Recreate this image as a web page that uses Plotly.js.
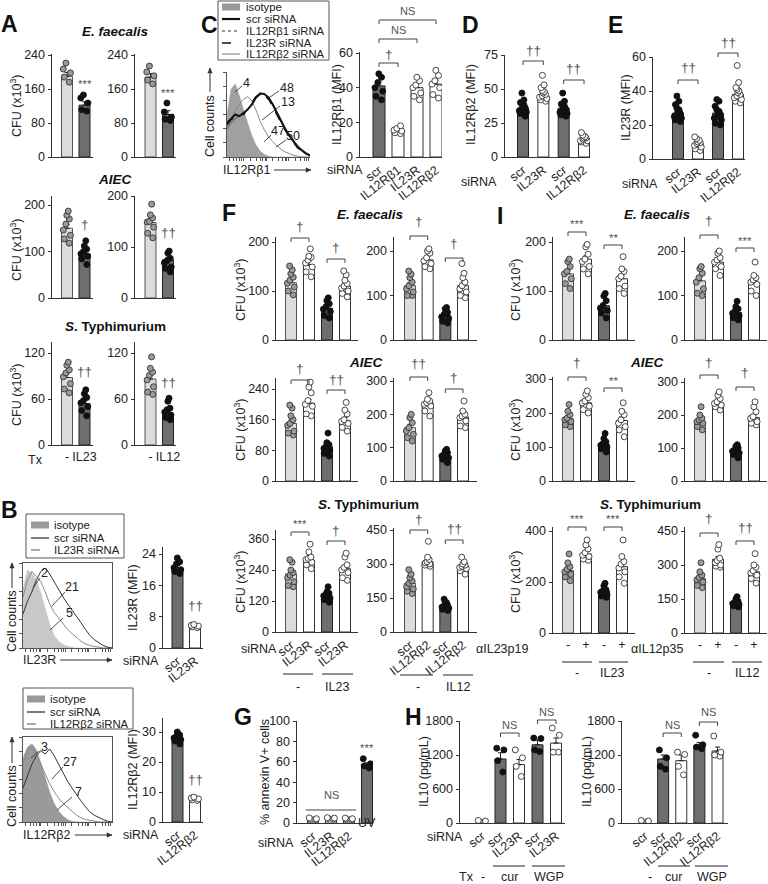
<!DOCTYPE html>
<html><head><meta charset="utf-8">
<script src="https://cdn.plot.ly/plotly-3.0.1.min.js"></script>
<style>body{margin:0;background:#fff}#c{width:768px;height:884px}</style>
</head><body><div id="c"></div>
<script>
// ================= DATA =================
// Panel A
const A_ticks_IL23 = ['-', 'IL23'];
const A_ticks_IL12 = ['-', 'IL12'];
const A_Ef_IL23_mean = [190, 122], A_Ef_IL23_sem = [9, 8];
const A_Ef_IL23_pts = [[221,207,198,188,176],[146,139,127,111,108]];
const A_Ef_IL12_mean = [188, 100], A_Ef_IL12_sem = [8, 9];
const A_Ef_IL12_pts = [[214,200,191,181,172],[127,106,94,89,86]];
const A_AIEC_IL23_mean = [150, 95], A_AIEC_IL23_sem = [8, 6];
const A_AIEC_IL23_pts = [[187,178,170,159,146,135,127,118],[123,112,105,100,95,90,84,72]];
const A_AIEC_IL12_mean = [148, 75], A_AIEC_IL12_sem = [8, 5];
const A_AIEC_IL12_pts = [[184,163,157,150,149,139,127,118],[92,88,78,73,69,61,51,58]];
const A_ST_IL23_mean = [88, 54], A_ST_IL23_sem = [5, 4];
const A_ST_IL23_pts = [[108,104,98,94,89,80,73,68],[72,67,62,58,55,50,45,38]];
const A_ST_IL12_mean = [86, 41], A_ST_IL12_sem = [5, 3];
const A_ST_IL12_pts = [[115,100,95,91,85,76,69,66],[61,57,48,46,43,39,36,33]];

// Panel B
const B_IL23R_cats = ['scr', 'IL23R'];
const B_IL23R_mean = [20.5, 5.5], B_IL23R_sem = [0.6, 0.2];
const B_IL23R_pts = [[23,22,21.5,20.5,20,19.5,19],[6,5.8,5.6,5.4,5.2]];
const B_IL12Rb2_cats = ['scr', 'IL12Rβ2'];
const B_IL12Rb2_mean = [28, 7.5], B_IL12Rb2_sem = [0.7, 0.3];
const B_IL12Rb2_pts = [[30,29,28.5,28,27.5,27,26],[8.3,8,7.7,7.4,7.2]];
const B1_hist_labels = ['2', '21', '5'];
const B2_hist_labels = ['3', '27', '7'];

// Histogram curves (flow cytometry)
const HIST_X = [0,5,10,15,20,25,30,35,40,45,50,55,60,65,70,75,80,85,90,95,100];
const B1_iso = [70,92,88,80,65,45,28,15,8,4,2,1,0,0,0,0,0,0,0,0,0];
const B1_kd  = [60,80,90,84,78,66,52,42,35,28,22,17,12,8,5,3,2,1,0,0,0];
const B1_scr = [40,55,66,80,90,94,87,78,68,60,52,45,38,30,22,15,10,6,3,1,0];
const B2_iso = [75,88,92,85,70,52,35,22,13,7,3,1,0,0,0,0,0,0,0,0,0];
const B2_kd  = [70,85,88,80,68,56,45,36,28,22,17,12,8,5,3,2,1,0,0,0,0];
const B2_scr = [40,55,68,78,84,80,86,78,68,58,48,40,32,25,18,12,8,5,3,1,0];
const C_iso = [50,80,86,72,55,40,25,14,7,3,1,0,0,0,0,0,0,0,0,0,0];
const C_scr = [40,45,50,48,52,56,62,70,75,74,70,62,52,42,33,25,18,12,8,4,2];
const C_b1  = [35,45,55,62,68,71,66,55,42,32,24,18,13,9,6,4,2,1,0,0,0];
const C_23r = [38,44,47,50,50,57,64,71,74,73,68,60,50,40,32,24,17,11,7,4,2];
const C_b2  = [33,40,45,48,51,55,63,70,73,75,70,63,54,44,35,27,20,14,9,5,2];
const C_hist_labels = ['4', '48', '13', '47', '50'];

// Panel C
const C_cats = ['scr', 'IL12Rβ1', 'IL23R', 'IL12Rβ2'];
const C_mean = [41, 15, 40, 42], C_sem = [2.2, 0.8, 2.5, 2.3];
const C_pts = [[48,46,43,40,38,35,33],[18,16.5,15.5,15,14,13.5],[46,44,41.5,40,37,35,33],[50,47,44,42,40,36,34]];

// Panel D
const D_cats = ['scr', 'IL23R', 'scr', 'IL12Rβ2'];
const D_mean = [36, 45, 36, 13], D_sem = [1.5, 1.6, 1.5, 0.8];
const D_pts = [[47,42,40,39,38,37,36,35,34,33,32,30],[60,53,51,49,48,47,46,45,44,43,42,41],
               [47,41,39,38,37,36,35,34,33,32,31,30],[18,16,15,14,14,13,12,12,11,10]];
// Panel E
const E_cats = ['scr', 'IL23R', 'scr', 'IL12Rβ2'];
const E_mean = [27, 9, 27, 38], E_sem = [1.3, 0.8, 1.2, 1.5];
const E_pts = [[37,34,32,30,29,28,27,26,25,24,23,22],[13,12,11,10,9.5,9,8,7,6,5],
               [35,34,31,29,28,27,26,25,24,23,21,20],[55,45,42,41,40,39,38,37,36,35,34,33]];

// Panel F
const F_cats_IL23 = ['scr', 'IL23R', 'scr', 'IL23R'];
const F_cats_IL12 = ['scr', 'IL12Rβ2', 'scr', 'IL12Rβ2'];
const F_Ef_IL23_mean = [117,153,65,110], F_Ef_IL23_sem = [7,8,5,6];
const F_Ef_IL23_pts = [[151,143,135,128,122,116,108,100,92],[186,171,169,163,157,149,139,129],[86,80,74,68,63,58,50,45],[141,133,122,115,110,106,100,95,88]];
const F_Ef_IL12_mean = [122,180,55,122], F_Ef_IL12_sem = [7,6,4,8];
const F_Ef_IL12_pts = [[155,148,140,130,122,115,108,100,100],[205,200,195,185,178,172,165,160],[73,70,62,58,52,48,42,38],[172,150,140,130,122,115,108,100,95]];
const F_AIEC_IL23_mean = [150,203,90,157], F_AIEC_IL23_sem = [9,10,7,9];
const F_AIEC_IL23_pts = [[198,190,170,160,150,145,130,125,120],[258,245,230,210,200,195,175,170],[125,100,95,90,85,80,72,65],[205,185,175,160,155,150,140,130]];
const F_AIEC_IL12_mean = [160,235,75,192], F_AIEC_IL12_sem = [10,8,5,10];
const F_AIEC_IL12_pts = [[200,190,175,160,150,140,130,120],[265,245,240,235,230,225,210,195],[95,90,85,80,75,70,65,55],[240,210,200,195,190,180,165,160]];
const F_ST_IL23_mean = [225,278,140,245], F_ST_IL23_sem = [12,12,7,13];
const F_ST_IL23_pts = [[280,270,240,230,220,210,195,180,175],[340,310,290,285,280,270,260,245],[175,155,150,145,140,130,125,115],[305,290,260,250,240,230,210,200]];
const F_ST_IL12_mean = [215,310,115,290], F_ST_IL12_sem = [11,12,6,9];
const F_ST_IL12_pts = [[275,255,240,225,215,200,190,180,170],[400,330,320,310,305,300,295,290],[145,130,125,120,115,110,105,100,95],[330,310,300,295,290,285,280,270,255]];

// Panel I
const I_cats = ['-', '+', '-', '+'];
const I_Ef_IL23_mean = [135,165,70,125], I_Ef_IL23_sem = [8,7,6,8];
const I_Ef_IL23_pts = [[165,160,150,140,135,125,115,105],[195,190,175,165,160,150,145,135],[95,90,80,70,65,60,55,45],[170,145,140,130,125,110,105,95]];
const I_Ef_IL12_mean = [133,175,62,128], I_Ef_IL12_sem = [9,7,4,8];
const I_Ef_IL12_pts = [[165,160,150,140,130,115,105,100],[200,195,185,180,175,165,160,145],[87,75,70,65,60,55,50,45],[175,145,140,135,130,125,110,100]];
const I_AIEC_IL23_mean = [183,230,107,178], I_AIEC_IL23_sem = [8,8,6,11];
const I_AIEC_IL23_pts = [[225,205,195,185,180,175,165,160],[265,255,245,235,230,220,210,200],[140,125,115,110,105,100,95,85],[230,205,195,180,170,160,150,130]];
const I_AIEC_IL12_mean = [180,237,90,192], I_AIEC_IL12_sem = [8,7,5,9];
const I_AIEC_IL12_pts = [[225,200,190,185,180,175,165,155],[270,260,250,240,235,230,225,215],[110,105,100,95,90,85,80,70],[240,225,210,195,190,180,175,170]];
const I_ST_IL23_mean = [245,310,165,260], I_ST_IL23_sem = [12,11,7,18];
const I_ST_IL23_pts = [[310,275,260,250,240,230,220,205],[365,345,330,315,305,300,290,285],[195,185,170,165,160,150,145,140],[365,300,280,270,255,240,220,195]];
const I_ST_IL12_mean = [240,325,135,270], I_ST_IL12_sem = [10,12,5,13];
const I_ST_IL12_pts = [[310,270,255,245,235,225,210,200],[390,370,330,320,310,300,295,290],[160,150,140,135,130,125,120,115],[350,300,290,275,265,255,240,220]];

// Panel G
const G_cats = ['scr', 'IL23R', 'IL12Rβ2', 'UV'];
const G_mean = [4, 4.5, 4, 57], G_sem = [0.5, 0.5, 0.5, 2];
const G_pts = [[5,4.2,3.8,3.5],[5.2,4.8,4.4,4],[4.8,4.2,3.8,3.5],[63,58,56,54]];

// Panel H
const H_L_cats = ['scr', 'scr', 'IL23R', 'scr', 'IL23R'];
const H_L_mean = [30, 1130, 1030, 1380, 1410], H_L_sem = [8, 110, 90, 80, 90];
const H_L_pts = [[45,35,25,20],[1320,1290,1100,900],[1290,1150,1000,820],[1500,1490,1290,1260],[1675,1550,1250,1250]];
const H_R_cats = ['scr', 'scr', 'IL12Rβ2', 'scr', 'IL12Rβ2'];
const H_R_mean = [30, 1130, 1100, 1360, 1270], H_R_sem = [8, 70, 100, 60, 70];
const H_R_pts = [[45,35,25,20],[1290,1150,1000,950],[1250,1210,1000,850],[1550,1380,1340,1310],[1535,1250,1200,1180]];
const H_tx = ['-', 'cur', 'WGP'];

// ================= DRAWING =================
const W = 768, H = 884;
const P = v => 1 - v / H;
const FONT = 'Liberation Sans, Arial, sans-serif';
const TF = 12.5;   // general text size
const data = [], shapes = [], ann = [];
const layout = {
  width: W, height: H, margin: {l:0, r:0, t:0, b:0}, showlegend: false,
  paper_bgcolor: '#fff', plot_bgcolor: 'rgba(0,0,0,0)',
  font: {family: FONT, size: TF, color: '#222'}, shapes: shapes, annotations: ann
};
const STY = {
  L: {fill:'#dcdcdc', line:'#555', pt:'#9a9a9a', ptl:'#333'},
  D: {fill:'#6e6e6e', line:'#222', pt:'#111', ptl:'#111'},
  W: {fill:'#ffffff', line:'#333', pt:'#ffffff', ptl:'#333'}
};
let nAx = 0;
function axes() {
  nAx++; const s = nAx === 1 ? '' : nAx;
  return {xa: 'x' + s, ya: 'y' + s, xk: 'xaxis' + s, yk: 'yaxis' + s};
}
function barPanel(g, mean, sem, pts) {
  const n = mean.length, s = (g.cN - g.c0) / (n - 1);
  const a = axes();
  const ymax = g.tTop * (g.yb - g.yt) / (g.yb - g.tPx);
  const idx = mean.map((_, i) => i);
  const tt = g.tt || [];
  layout[a.xk] = {domain: [g.x0 / W, g.x1 / W], range: [(g.x0 - g.c0) / s, (g.x1 - g.c0) / s],
    type: 'linear', anchor: a.ya, showline: true, linecolor: '#333', linewidth: 1, ticks: '',
    showgrid: false, zeroline: false, tickvals: idx.slice(0, tt.length), ticktext: tt,
    tickangle: g.ta || 0, tickfont: {size: TF, color: '#222'}};
  layout[a.yk] = {domain: [P(g.yb), P(g.yt)], range: [0, ymax], anchor: a.xa, showline: true,
    linecolor: '#333', linewidth: 1, ticks: 'outside', ticklen: 3.5, tickcolor: '#333',
    tickvals: g.tv, showgrid: false, zeroline: false, tickfont: {size: TF, color: '#222'}};
  data.push({type: 'bar', xaxis: a.xa, yaxis: a.ya, x: idx, y: mean, width: g.bw / s,
    marker: {color: g.sty.map(k => STY[k].fill), line: {color: g.sty.map(k => STY[k].line), width: 1}},
    error_y: {type: 'data', array: sem, arrayminus: sem.map(() => 0), symmetric: false,
      color: '#222', thickness: 1, width: 2.5}, hoverinfo: 'skip'});
  pts.forEach((p, i) => {
    const st = STY[g.sty[i]];
    data.push({type: 'box', xaxis: a.xa, yaxis: a.ya, x0: i, y: p, boxpoints: 'all', jitter: 0.8,
      pointpos: 0, width: g.bw / s, fillcolor: 'rgba(0,0,0,0)',
      line: {color: 'rgba(0,0,0,0)', width: 0}, whiskerwidth: 0,
      marker: {color: st.pt, size: 6, line: {color: st.ptl, width: 0.9}}, hoverinfo: 'skip'});
  });
  return a;
}
function txt(x, y, t, o = {}) {
  const font = Object.assign({size: TF, color: '#222', family: FONT}, o.font || {});
  const base = {xref: 'paper', yref: 'paper', x: x / W, y: P(y), text: t, showarrow: false,
    xanchor: 'center', yanchor: 'middle'};
  ann.push(Object.assign(base, o, {font}));
}
function ytitle(x, y, t) { txt(x, y, t, {textangle: -90}); }
function letter(x, y, t) { txt(x, y, '<b>' + t + '</b>', {font: {size: 23, color: '#111'}}); }
function title(x, y, t) { txt(x, y, t, {font: {size: 13.5, color: '#111'}}); }
function ln(x0, y0, x1, y1, o = {}) {
  shapes.push({type: 'line', xref: 'paper', yref: 'paper', x0: x0 / W, y0: P(y0), x1: x1 / W, y1: P(y1),
    line: Object.assign({color: '#222', width: 1}, o)});
}
function rect(x0, y0, x1, y1, o) {
  shapes.push(Object.assign({type: 'rect', xref: 'paper', yref: 'paper', x0: x0 / W, y0: P(y1), x1: x1 / W, y1: P(y0)}, o));
}
function arrow(x0, y0, x1, y1) {
  ln(x0, y0, x1, y1, {color: '#333', width: 1});
  const dx = x1 - x0, dy = y1 - y0, L = Math.hypot(dx, dy), ux = dx / L, uy = dy / L, hl = 5, hw = 2.2;
  const bx = x1 - ux * hl, by = y1 - uy * hl;
  const p1 = [bx - uy * hw, by + ux * hw], p2 = [bx + uy * hw, by - ux * hw];
  shapes.push({type: 'path', xref: 'paper', yref: 'paper',
    path: `M${x1 / W},${P(y1)} L${p1[0] / W},${P(p1[1])} L${p2[0] / W},${P(p2[1])} Z`,
    fillcolor: '#333', line: {color: '#333', width: 0.5}});
}
function sigFont(t) { return {size: t === 'NS' ? 11 : (t.includes('*') ? 11.5 : 13.5), color: '#555', family: FONT}; }
function mark(a, i, py, t) {
  ann.push({xref: a.xa, yref: 'paper', x: i, y: P(py), text: t, showarrow: false, xanchor: 'center',
    yanchor: 'middle', font: sigFont(t)});
}
function bracket(a, i, j, py, t, lpy, drop = 4) {
  shapes.push({type: 'path', xref: a.xa, yref: 'paper',
    path: `M${i},${P(py + drop)} L${i},${P(py)} L${j},${P(py)} L${j},${P(py + drop)}`,
    line: {color: '#444', width: 1}});
  ann.push({xref: a.xa, yref: 'paper', x: (i + j) / 2, y: P(lpy), text: t, showarrow: false,
    xanchor: 'center', yanchor: 'middle', font: sigFont(t)});
}
function histPanel(g, curves) {
  const a = axes();
  layout[a.xk] = {domain: [g.x0 / W, g.x1 / W], range: [0, 100], anchor: a.ya, showline: true,
    linecolor: '#555', mirror: g.box, ticks: 'outside', ticklen: 3, tickcolor: '#555',
    tickvals: [3, 8, 12, 15, 18, 20, 28, 35, 40, 43, 46, 48, 55, 62, 67, 70, 72, 74, 82, 89, 93, 96, 98],
    showticklabels: false, showgrid: false, zeroline: false};
  layout[a.yk] = {domain: [P(g.yb), P(g.yt)], range: [0, 100], anchor: a.xa, showline: true,
    linecolor: '#555', mirror: g.box, ticks: 'outside', ticklen: 3, tickcolor: '#555',
    tickvals: [0, 17, 33, 50, 67, 83, 100], showticklabels: false, showgrid: false, zeroline: false};
  curves.forEach(c => data.push({type: 'scatter', mode: 'lines', xaxis: a.xa, yaxis: a.ya, x: HIST_X, y: c.y,
    line: {color: c.color, width: c.width, dash: c.dash || 'solid'},
    fill: c.fill ? 'tozeroy' : 'none', fillcolor: c.fill, hoverinfo: 'skip'}));
  return a;
}
function legendBox(x0, y0, x1, y1, items, sx, tx) {
  rect(x0, y0, x1, y1, {line: {color: '#555', width: 1}, fillcolor: 'rgba(0,0,0,0)'});
  items.forEach(it => {
    if (it.fill) rect(sx, it.y - 3.5, sx + 18, it.y + 3.5, {line: {width: 0}, fillcolor: it.fill});
    else ln(sx, it.y, sx + 18, it.y, {color: it.color, width: it.width, dash: it.dash || 'solid'});
    txt(tx, it.y, it.t, {xanchor: 'left', font: {size: 11.3}});
  });
}

// ---------- Letters ----------
letter(9, 24, 'A'); letter(9, 510, 'B'); letter(209, 25, 'C'); letter(470, 25, 'D');
letter(615, 25, 'E'); letter(229, 213, 'F'); letter(243, 717, 'G'); letter(413, 717, 'H');
letter(500, 216, 'I');

// ---------- Panel A ----------
const gAL = {x0: 52, x1: 93, c0: 67, cN: 84.5, bw: 11, sty: ['L', 'D']};
const gAR = {x0: 135, x1: 176, c0: 150.5, cN: 168, bw: 11, sty: ['L', 'D']};
const aA1 = barPanel(Object.assign({yt: 54, yb: 157, tv: [0, 80, 160, 240], tTop: 240, tPx: 55}, gAL), A_Ef_IL23_mean, A_Ef_IL23_sem, A_Ef_IL23_pts);
const aA2 = barPanel(Object.assign({yt: 54, yb: 157, tv: [0, 80, 160, 240], tTop: 240, tPx: 55}, gAR), A_Ef_IL12_mean, A_Ef_IL12_sem, A_Ef_IL12_pts);
const aA3 = barPanel(Object.assign({yt: 196, yb: 298, tv: [0, 100, 200], tTop: 200, tPx: 205}, gAL), A_AIEC_IL23_mean, A_AIEC_IL23_sem, A_AIEC_IL23_pts);
const aA4 = barPanel(Object.assign({yt: 196, yb: 298, tv: [0, 100, 200], tTop: 200, tPx: 196}, gAR), A_AIEC_IL12_mean, A_AIEC_IL12_sem, A_AIEC_IL12_pts);
const aA5 = barPanel(Object.assign({yt: 342, yb: 445, tv: [0, 60, 120], tTop: 120, tPx: 353, tt: A_ticks_IL23}, gAL), A_ST_IL23_mean, A_ST_IL23_sem, A_ST_IL23_pts);
const aA6 = barPanel(Object.assign({yt: 342, yb: 445, tv: [0, 60, 120], tTop: 120, tPx: 353, tt: A_ticks_IL12}, gAR), A_ST_IL12_mean, A_ST_IL12_sem, A_ST_IL12_pts);
mark(aA1, 1, 84, '***'); mark(aA2, 1, 93, '***');
mark(aA3, 1, 224, '†'); mark(aA4, 1, 233, '††');
mark(aA5, 1, 371, '††'); mark(aA6, 1, 382, '††');
title(115, 32, '<b><i>E. faecalis</i></b>'); title(115, 180, '<b><i>AIEC</i></b>'); title(115, 326, '<b><i>S</i>. Typhimurium</b>');
ytitle(16, 106, 'CFU (x10<sup>3</sup>)'); ytitle(16, 250, 'CFU (x10<sup>3</sup>)'); ytitle(16, 395, 'CFU (x10<sup>3</sup>)');
txt(35, 460, 'Tx');

// ---------- Panel B ----------
const bB1 = barPanel({x0: 163, x1: 203, c0: 177.5, cN: 195, bw: 11, yt: 547, yb: 648, tv: [0, 8, 16, 24], tTop: 24, tPx: 554, sty: ['D', 'W'], tt: B_IL23R_cats, ta: -38}, B_IL23R_mean, B_IL23R_sem, B_IL23R_pts);
const bB2 = barPanel({x0: 163, x1: 203, c0: 177.5, cN: 195, bw: 11, yt: 718, yb: 822, tv: [0, 10, 20, 30], tTop: 30, tPx: 732, sty: ['D', 'W'], tt: B_IL12Rb2_cats, ta: -38}, B_IL12Rb2_mean, B_IL12Rb2_sem, B_IL12Rb2_pts);
mark(bB1, 1, 605, '††'); mark(bB2, 1, 779, '††');
ytitle(133, 598, 'IL23R (MFI)'); ytitle(133, 770, 'IL12Rβ2 (MFI)');
txt(141, 661, 'siRNA'); txt(141, 835, 'siRNA');
histPanel({x0: 23, x1: 112, yt: 563, yb: 648, box: true}, [
  {y: B1_iso, color: '#c8c8c8', width: 0.5, fill: '#c8c8c8'},
  {y: B1_kd, color: '#8a8a8a', width: 1},
  {y: B1_scr, color: '#333', width: 1}]);
histPanel({x0: 23, x1: 112, yt: 737, yb: 822, box: true}, [
  {y: B2_iso, color: '#9a9a9a', width: 0.5, fill: '#9a9a9a'},
  {y: B2_kd, color: '#8a8a8a', width: 1},
  {y: B2_scr, color: '#333', width: 1}]);
legendBox(26, 514, 124, 558, [
  {y: 525, t: 'isotype', fill: '#999'},
  {y: 538, t: 'scr siRNA', color: '#222', width: 1.2},
  {y: 550, t: 'IL23R siRNA', color: '#555', width: 1, dash: 'dash'}], 31, 52);
legendBox(23, 688, 133, 729, [
  {y: 699, t: 'isotype', fill: '#999'},
  {y: 712, t: 'scr siRNA', color: '#222', width: 1.2},
  {y: 724, t: 'IL12Rβ2 siRNA', color: '#555', width: 1, dash: 'dash'}], 27, 48);
txt(12, 621, 'Cell counts', {textangle: -90}); arrow(12, 588, 12, 563);
txt(39, 660, 'IL23R'); arrow(60, 660, 112, 660);
txt(12, 796, 'Cell counts', {textangle: -90}); arrow(12, 763, 12, 737);
txt(47, 835, 'IL12Rβ2'); arrow(75, 835, 112, 835);
txt(44, 573, B1_hist_labels[0]); ln(40, 578, 33, 588, {width: 0.8});
txt(72, 587, B1_hist_labels[1]); ln(65, 592, 52, 606, {width: 0.8});
txt(69, 613, B1_hist_labels[2]); ln(63, 618, 50, 630, {width: 0.8});
txt(44, 747, B2_hist_labels[0]); ln(39, 751, 31, 758, {width: 0.8});
txt(70, 762, B2_hist_labels[1]); ln(63, 767, 52, 779, {width: 0.8});
txt(78, 792, B2_hist_labels[2]); ln(72, 797, 57, 810, {width: 0.8});

// ---------- Panel C ----------
const cP = barPanel({x0: 360, x1: 442, c0: 379, cN: 436, bw: 12, yt: 52, yb: 157, tv: [0, 20, 40, 60], tTop: 60, tPx: 53, sty: ['D', 'W', 'W', 'W'], tt: C_cats, ta: -38}, C_mean, C_sem, C_pts);
bracket(cP, 0, 1, 63, '†', 54); bracket(cP, 0, 2, 39, 'NS', 30); bracket(cP, 0, 3, 20, 'NS', 11);
ytitle(337, 105, 'IL12Rβ1 (MFI)'); txt(345, 170, 'siRNA');
histPanel({x0: 227, x1: 310, yt: 72, yb: 157, box: false}, [
  {y: C_iso, color: '#a0a0a0', width: 0.5, fill: '#a0a0a0'},
  {y: C_b1, color: '#8a8a8a', width: 1},
  {y: C_b2, color: '#444', width: 0.8},
  {y: C_23r, color: '#111', width: 1.6, dash: 'dash'},
  {y: C_scr, color: '#111', width: 2}]);
legendBox(218, 1, 329, 60, [
  {y: 7, t: 'isotype', fill: '#999'},
  {y: 19, t: 'scr siRNA', color: '#111', width: 2.2},
  {y: 31, t: 'IL12Rβ1 siRNA', color: '#333', width: 1, dash: 'dot'},
  {y: 43, t: 'IL23R siRNA', color: '#111', width: 1.5, dash: 'dash'},
  {y: 54, t: 'IL12Rβ2 siRNA', color: '#555', width: 0.8}], 222, 244);
txt(210, 126, 'Cell counts', {textangle: -90}); arrow(210, 92, 210, 68);
txt(247, 170, 'IL12Rβ1'); arrow(274, 170, 311, 170);
txt(246, 83, C_hist_labels[0]); ln(242, 86, 235, 92, {width: 0.8});
txt(287, 88, C_hist_labels[1]); ln(279, 91, 267, 99, {width: 0.8});
txt(288, 102, C_hist_labels[2]); ln(280, 106, 262, 120, {width: 0.8});
txt(278, 131, C_hist_labels[3]); ln(271, 135, 264, 142, {width: 0.8});
txt(293, 136, C_hist_labels[4]); ln(286, 140, 276, 147, {width: 0.8});

// ---------- Panel D ----------
const dP = barPanel({x0: 505, x1: 590, c0: 523, cN: 584, bw: 11, yt: 55, yb: 157, tv: [0, 25, 50, 75], tTop: 75, tPx: 55, sty: ['D', 'W', 'D', 'W'], tt: D_cats, ta: -38}, D_mean, D_sem, D_pts);
bracket(dP, 0, 1, 61, '††', 50); bracket(dP, 2, 3, 80, '††', 69);
ytitle(471, 105, 'IL12Rβ2 (MFI)'); txt(479, 182, 'siRNA');

// ---------- Panel E ----------
const eP = barPanel({x0: 653, x1: 745, c0: 678, cN: 738, bw: 11, yt: 57, yb: 159, tv: [0, 20, 40, 60], tTop: 60, tPx: 57, sty: ['D', 'W', 'D', 'W'], tt: E_cats, ta: -38}, E_mean, E_sem, E_pts);
bracket(eP, 0, 1, 80, '††', 68); bracket(eP, 2, 3, 53, '††', 42);
ytitle(626, 108, 'IL23R (MFI)'); txt(640, 184, 'siRNA');

// ---------- Panel F ----------
const gFL = {x0: 276, x1: 358, c0: 291, cN: 345, bw: 11, sty: ['L', 'W', 'D', 'W']};
const gFR = {x0: 394, x1: 477, c0: 410, cN: 463, bw: 11, sty: ['L', 'W', 'D', 'W']};
const f1 = barPanel(Object.assign({yt: 237, yb: 340, tv: [0, 100, 200], tTop: 200, tPx: 242}, gFL), F_Ef_IL23_mean, F_Ef_IL23_sem, F_Ef_IL23_pts);
const f2 = barPanel(Object.assign({yt: 237, yb: 340, tv: [0, 100, 200], tTop: 200, tPx: 251}, gFR), F_Ef_IL12_mean, F_Ef_IL12_sem, F_Ef_IL12_pts);
const f3 = barPanel(Object.assign({yt: 378, yb: 481, tv: [0, 80, 160, 240], tTop: 240, tPx: 389}, gFL), F_AIEC_IL23_mean, F_AIEC_IL23_sem, F_AIEC_IL23_pts);
const f4 = barPanel(Object.assign({yt: 378, yb: 481, tv: [0, 100, 200, 300], tTop: 300, tPx: 381}, gFR), F_AIEC_IL12_mean, F_AIEC_IL12_sem, F_AIEC_IL12_pts);
const f5 = barPanel(Object.assign({yt: 530, yb: 632, tv: [0, 120, 240, 360], tTop: 360, tPx: 539, tt: F_cats_IL23, ta: -38}, gFL), F_ST_IL23_mean, F_ST_IL23_sem, F_ST_IL23_pts);
const f6 = barPanel(Object.assign({yt: 528, yb: 632, tv: [0, 150, 300, 450], tTop: 450, tPx: 530, tt: F_cats_IL12, ta: -38}, gFR), F_ST_IL12_mean, F_ST_IL12_sem, F_ST_IL12_pts);
bracket(f1, 0, 1, 238, '†', 227); bracket(f1, 2, 3, 259, '†', 247);
bracket(f2, 0, 1, 236, '†', 221); bracket(f2, 2, 3, 258, '†', 243);
bracket(f3, 0, 1, 380, '†', 368); bracket(f3, 2, 3, 390, '††', 379);
bracket(f4, 0, 1, 377, '††', 363); bracket(f4, 2, 3, 389, '†', 377);
bracket(f5, 0, 1, 532, '***', 524); bracket(f5, 2, 3, 541, '†', 530);
bracket(f6, 0, 1, 530, '†', 519); bracket(f6, 2, 3, 540, '††', 528);
title(370, 214, '<b><i>E. faecalis</i></b>'); title(366, 362, '<b><i>AIEC</i></b>'); title(368, 504, '<b><i>S</i>. Typhimurium</b>');
ytitle(240, 290, 'CFU (x10<sup>3</sup>)'); ytitle(240, 430, 'CFU (x10<sup>3</sup>)'); ytitle(240, 582, 'CFU (x10<sup>3</sup>)');
txt(259, 649, 'siRNA');
ln(283, 674, 313, 674); ln(322, 674, 353, 674); txt(298, 687, '-'); txt(337, 687, 'IL23');
ln(400, 675, 433, 675); ln(443, 675, 473, 675); txt(418, 687, '-'); txt(458, 687, 'IL12');

// ---------- Panel I ----------
const gIL = {x0: 553, x1: 635, c0: 568, cN: 622, bw: 11, sty: ['L', 'W', 'D', 'W']};
const gIR = {x0: 685, x1: 767, c0: 700, cN: 754, bw: 11, sty: ['L', 'W', 'D', 'W']};
const i1 = barPanel(Object.assign({yt: 237, yb: 340, tv: [0, 100, 200], tTop: 200, tPx: 242}, gIL), I_Ef_IL23_mean, I_Ef_IL23_sem, I_Ef_IL23_pts);
const i2 = barPanel(Object.assign({yt: 237, yb: 340, tv: [0, 100, 200], tTop: 200, tPx: 251}, gIR), I_Ef_IL12_mean, I_Ef_IL12_sem, I_Ef_IL12_pts);
const i3 = barPanel(Object.assign({yt: 377, yb: 481, tv: [0, 100, 200, 300], tTop: 300, tPx: 379}, gIL), I_AIEC_IL23_mean, I_AIEC_IL23_sem, I_AIEC_IL23_pts);
const i4 = barPanel(Object.assign({yt: 378, yb: 481, tv: [0, 100, 200, 300], tTop: 300, tPx: 382}, gIR), I_AIEC_IL12_mean, I_AIEC_IL12_sem, I_AIEC_IL12_pts);
const i5 = barPanel(Object.assign({yt: 527, yb: 633, tv: [0, 200, 400], tTop: 400, tPx: 531, tt: I_cats}, gIL), I_ST_IL23_mean, I_ST_IL23_sem, I_ST_IL23_pts);
const i6 = barPanel(Object.assign({yt: 527, yb: 633, tv: [0, 150, 300, 450], tTop: 450, tPx: 531, tt: I_cats}, gIR), I_ST_IL12_mean, I_ST_IL12_sem, I_ST_IL12_pts);
bracket(i1, 0, 1, 232, '***', 224); bracket(i1, 2, 3, 245, '**', 238);
bracket(i2, 0, 1, 235, '†', 220); bracket(i2, 2, 3, 248, '***', 241);
bracket(i3, 0, 1, 377, '†', 362); bracket(i3, 2, 3, 388, '**', 381);
bracket(i4, 0, 1, 375, '†', 362); bracket(i4, 2, 3, 387, '†', 372);
bracket(i5, 0, 1, 527, '***', 519); bracket(i5, 2, 3, 527, '***', 519);
bracket(i6, 0, 1, 533, '†', 518); bracket(i6, 2, 3, 541, '††', 527);
title(657, 214, '<b><i>E. faecalis</i></b>'); title(647, 362, '<b><i>AIEC</i></b>'); title(650, 504, '<b><i>S</i>. Typhimurium</b>');
ytitle(515, 290, 'CFU (x10<sup>3</sup>)'); ytitle(515, 430, 'CFU (x10<sup>3</sup>)'); ytitle(515, 582, 'CFU (x10<sup>3</sup>)');
txt(502, 649, 'αIL23p19');
txt(657, 649, 'αIL12p35');
ln(562, 662, 592, 662); ln(599, 662, 628, 662); txt(577, 673, '-'); txt(612, 673, 'IL23');
ln(693, 662, 724, 662); ln(732, 662, 762, 662); txt(709, 673, '-'); txt(747, 673, 'IL12');

// ---------- Panel G ----------
const gP = barPanel({x0: 297, x1: 373, c0: 313, cN: 367, bw: 11, yt: 721, yb: 823, tv: [0, 20, 40, 60, 80, 100], tTop: 100, tPx: 721, sty: ['W', 'W', 'W', 'D'], tt: G_cats.slice(0, 3), ta: -38}, G_mean, G_sem, G_pts);
shapes.push({type: 'line', xref: gP.xa, yref: 'paper', x0: -0.4, x1: 2.4, y0: P(810), y1: P(810), line: {color: '#444', width: 1}});
ann.push({xref: gP.xa, yref: 'paper', x: 1, y: P(803), text: 'NS', showarrow: false, font: sigFont('NS')});
mark(gP, 3, 748, '***');
ann.push({xref: gP.xa, yref: 'paper', x: 3, y: P(832), text: G_cats[3], showarrow: false, font: {size: TF, color: '#222', family: FONT}});
ytitle(265, 772, '% annexin V+ cells'); txt(276, 843, 'siRNA');

// ---------- Panel H ----------
const hL = barPanel({x0: 460, x1: 565, c0: 482, cN: 556, bw: 11, yt: 721, yb: 823, tv: [0, 600, 1200, 1800], tTop: 1800, tPx: 721, sty: ['W', 'D', 'W', 'D', 'W'], tt: H_L_cats, ta: -38}, H_L_mean, H_L_sem, H_L_pts);
const hR = barPanel({x0: 622, x1: 728, c0: 645, cN: 717.5, bw: 11, yt: 721, yb: 823, tv: [0, 600, 1200, 1800], tTop: 1800, tPx: 721, sty: ['W', 'D', 'W', 'D', 'W'], tt: H_R_cats, ta: -38}, H_R_mean, H_R_sem, H_R_pts);
bracket(hL, 1, 2, 733, 'NS', 725); bracket(hL, 3, 4, 720, 'NS', 712);
bracket(hR, 1, 2, 733, 'NS', 725); bracket(hR, 3, 4, 722, 'NS', 712);
ytitle(424, 772, 'IL10 (pg/mL)'); ytitle(587, 772, 'IL10 (pg/mL)');
txt(445, 837, 'siRNA'); txt(466, 877, 'Tx');
txt(483, 877, H_tx[0]); txt(509, 877, H_tx[1]); txt(549, 877, H_tx[2]);
ln(493, 866, 525, 866); ln(532, 866, 565, 866);
txt(650, 877, H_tx[0]); txt(673, 877, H_tx[1]); txt(712, 877, H_tx[2]);
ln(658, 866, 690, 866); ln(695, 866, 728, 866);

Plotly.newPlot('c', data, layout, {staticPlot: true});
</script></body></html>
